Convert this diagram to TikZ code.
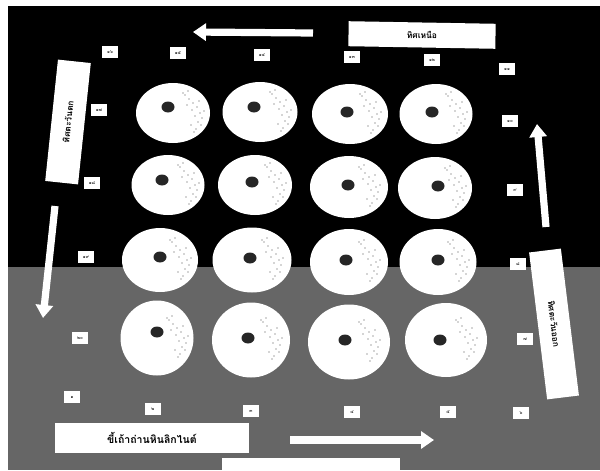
\documentclass[tikz,border=0pt]{standalone}
\usepackage{fontspec}
\newfontfamily\thaifont[Script=Thai]{Loma}
\usetikzlibrary{arrows.meta, shapes.geometric, calc}
\definecolor{ground}{RGB}{102,102,102}

\begin{document}
\begin{tikzpicture}[x=0.05cm, y=-0.05cm,
        dish/.style={ellipse, fill=white, inner sep=0pt},
        core/.style={ellipse, fill=black!85, inner sep=0pt, minimum width=0.65cm, minimum height=0.55cm},
        speck/.style={fill=black!70},
        tag/.style={rectangle, fill=white, inner sep=0pt, minimum width=0.78cm, minimum height=0.64cm, font=\thaifont\fontsize{6.5}{6.5}\selectfont},
        sign/.style={rectangle, fill=white, inner sep=0pt, font=\thaifont\bfseries\fontsize{12}{14}\selectfont},
        arrow/.style={-{Triangle[length=0.65cm, width=0.85cm]}, line width=0.36cm, draw=white}
    ]
    \useasboundingbox (0,0) rectangle (600,470);
    % Background
    \fill[white] (0,0) rectangle (600,470);
    \fill[black] (8,6) rectangle (600,267);
    \fill[ground] (8,267) rectangle (600,470);

    % Plates
    \foreach \cx/\cy/\w/\h/\bx/\by [count=\i] in {
        173/113/3.7/3.0/168/107, 260/112/3.75/3.0/254/107, 350/114/3.8/3.0/347/112, 436/114/3.65/3.0/432/112,
        168/185/3.65/3.0/162/180, 255/185/3.7/3.0/252/182, 349/187/3.9/3.1/348/185, 435/188/3.7/3.1/438/186,
        160/260/3.8/3.2/160/257, 252/260/3.95/3.25/250/258, 349/262/3.9/3.3/346/260, 438/262/3.85/3.3/438/260,
        157/338/3.65/3.75/157/332, 251/340/3.9/3.75/248/338, 349/342/4.1/3.75/345/340, 446/340/4.1/3.7/440/340} {
        \node[dish, minimum width=\w cm, minimum height=\h cm] (d\i) at (\cx,\cy) {};
        \node[core] (c\i) at (\bx,\by) {};
        % speckles on the right side
        \foreach \sx/\sy in {12/-18, 16/-14, 20/-10, 14/-8, 24/-6, 19/-3, 27/0, 22/3, 29/5, 25/9,
                             18/12, 28/12, 23/16, 10/-20, 26/-12, 31/-2, 21/19, 15/-22} {
            \fill[speck] ($(d\i.center)+(\sx,\sy)$) circle[radius=0.035cm];
        }
    }

    % Numbered stakes
    \foreach \n/\x/\y [count=\i] in {
        ๑/72/397, ๒/153/409, ๓/251/411, ๔/352/412, ๕/448/412, ๖/521/413,
        ๗/525/339, ๘/518/264, ๙/515/190, ๑๐/510/121, ๑๑/507/69,
        ๑๒/432/60, ๑๓/352/57, ๑๔/262/55, ๑๕/178/53, ๑๖/110/52,
        ๑๗/99/110, ๑๘/92/183, ๑๙/86/257, ๒๐/80/338} {
        \node[tag] (p\i) at (\x,\y) {\n};
    }

    % Signs
    \node[sign, rotate=-1, minimum width=7.35cm, minimum height=1.25cm] (north) at (422,35) {ทิศเหนือ};
    \node[sign, rotate=84, minimum width=6.1cm, minimum height=1.65cm] (west) at (68,122) {ทิศตะวันตก};
    \node[sign, rotate=-83, minimum width=7.4cm, minimum height=1.6cm] (east) at (554,324) {ทิศตะวันออก};
    \node[sign, minimum width=9.75cm, minimum height=1.5cm, font=\thaifont\bfseries\fontsize{15}{17}\selectfont] (ash) at (152,438) {ขี้เถ้าถ่านหินลิกไนต์};
    \node[sign, minimum width=8.9cm, minimum height=0.6cm] (blank) at (311,464) {};

    % Arrows
    \coordinate (n1) at (313,33);  \coordinate (n2) at (193,32);
    \coordinate (w1) at (55,206);  \coordinate (w2) at (43,318);
    \coordinate (s1) at (290,440); \coordinate (s2) at (434,440);
    \coordinate (e1) at (546,227); \coordinate (e2) at (537,124);
    \draw[arrow] (n1) -- (n2);
    \draw[arrow] (w1) -- (w2);
    \draw[arrow] (s1) -- (s2);
    \draw[arrow] (e1) -- (e2);
\end{tikzpicture}
\end{document}
